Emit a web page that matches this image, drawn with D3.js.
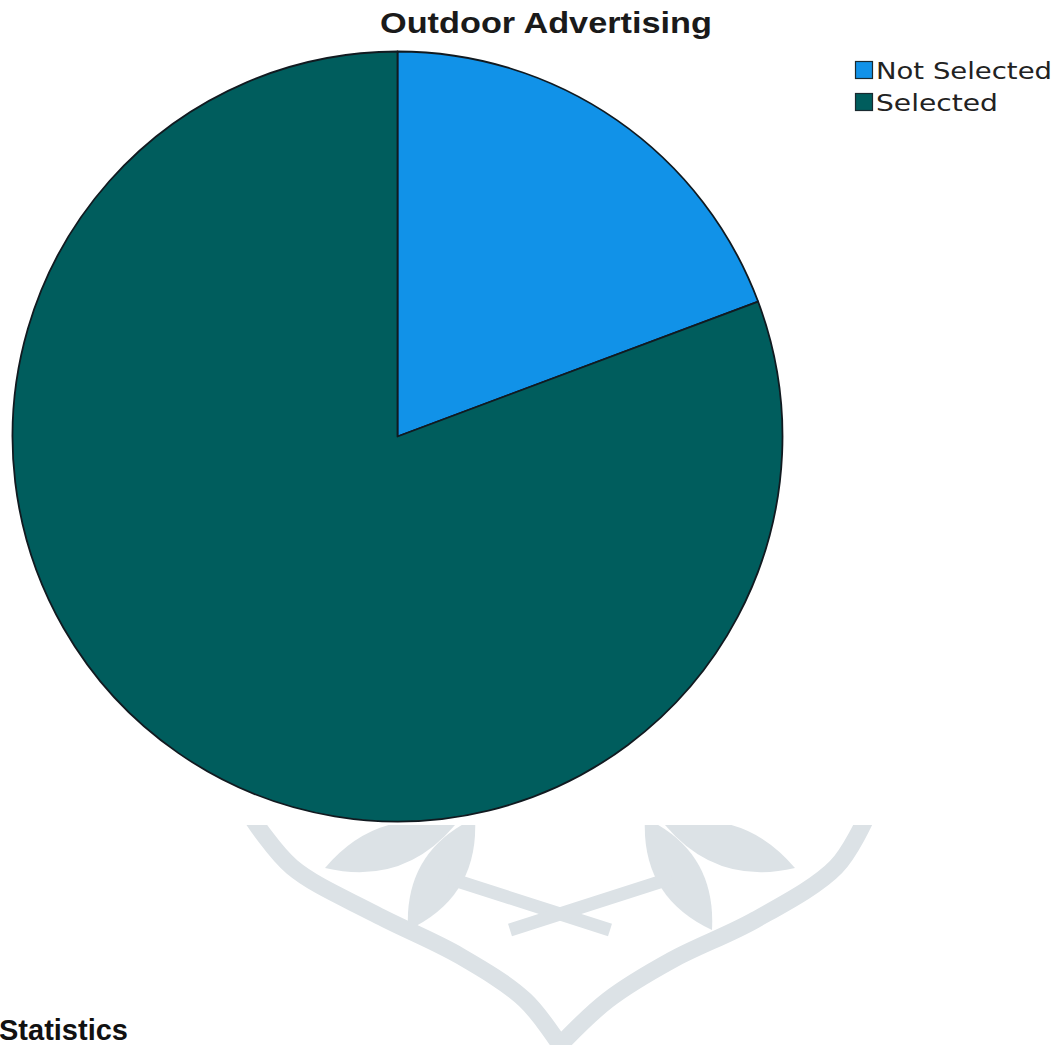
<!DOCTYPE html>
<html>
<head>
<meta charset="utf-8">
<script src="https://cdn.jsdelivr.net/npm/d3@7"></script>
<style>
  html, body { margin: 0; padding: 0; background: #fff; overflow: hidden; }
  svg { display: block; }
</style>
</head>
<body>
<script>
// Survey response: was outdoor advertising selected?
const categories = ["Not Selected", "Selected"];
const values = [19.3, 80.7];
const colors = ["#1192e8", "#005d5d"];
const chartTitle = "Outdoor Advertising";
const footerHeading = "Statistics";

const W = 1062, H = 1045;
const svg = d3.select("body").append("svg").attr("width", W).attr("height", H);

// Faint decorative emblem printed on the page behind the chart
const emblem = svg.append("g").attr("clip-path", "url(#emblemClip)");
svg.append("defs").append("clipPath").attr("id", "emblemClip")
  .append("rect").attr("x", 0).attr("y", 825).attr("width", W).attr("height", H - 825);
const inkColor = "#dce2e6";

function leaf(x1, y1, x2, y2, w) {
  const mx = (x1 + x2) / 2, my = (y1 + y2) / 2;
  const dx = x2 - x1, dy = y2 - y1, len = Math.hypot(dx, dy);
  const nx = -dy / len * w, ny = dx / len * w;
  const p = d3.path();
  p.moveTo(x1, y1);
  p.quadraticCurveTo(mx + nx, my + ny, x2, y2);
  p.quadraticCurveTo(mx - nx, my - ny, x1, y1);
  p.closePath();
  return p.toString();
}
const line = d3.line().curve(d3.curveCatmullRom.alpha(0.5));
emblem.append("path")
  .attr("d", line([[252, 818], [292, 867], [375, 914], [460, 956], [525, 1000], [560, 1045]]))
  .attr("fill", "none").attr("stroke", inkColor).attr("stroke-width", 17);
emblem.append("path")
  .attr("d", line([[866, 818], [836, 867], [755, 920], [672, 960], [608, 1000], [560, 1045]]))
  .attr("fill", "none").attr("stroke", inkColor).attr("stroke-width", 17);
[
  [455, 825, 325, 868, 42],
  [475, 818, 408, 930, 44],
  [645, 818, 712, 930, -44],
  [665, 825, 795, 868, -42]
].forEach(d => emblem.append("path").attr("d", leaf(...d)).attr("fill", inkColor));
emblem.append("path").attr("d", "M448,878 L610,930").attr("stroke", inkColor).attr("stroke-width", 13);
emblem.append("path").attr("d", "M672,878 L510,930").attr("stroke", inkColor).attr("stroke-width", 13);

// Pie
const cx = 397.5, cy = 436.5, R = 385;
const pie = d3.pie().sort(null).value(d => d.value);
const arc = d3.arc().innerRadius(0).outerRadius(R);
const data = categories.map((c, i) => ({ name: c, value: values[i], color: colors[i] }));

svg.append("g").attr("transform", `translate(${cx},${cy})`)
  .selectAll("path").data(pie(data)).join("path")
  .attr("d", arc)
  .attr("fill", d => d.data.color)
  .attr("stroke", "#111a20")
  .attr("stroke-width", 1.8)
  .attr("stroke-linejoin", "round");

// Title
svg.append("text")
  .attr("x", 380).attr("y", 33)
  .attr("font-family", "Liberation Sans, Arial, sans-serif")
  .attr("font-weight", "bold").attr("font-size", 29)
  .attr("textLength", 332).attr("lengthAdjust", "spacingAndGlyphs")
  .attr("fill", "#1a1a1a")
  .text(chartTitle);

// Legend
const legend = svg.append("g");
const rowY = [61, 93];
data.forEach((d, i) => {
  legend.append("rect")
    .attr("x", 855.5).attr("y", rowY[i] + 0.5).attr("width", 17).attr("height", 17)
    .attr("fill", d.color).attr("stroke", "#1a2a30").attr("stroke-width", 1.2);
  legend.append("text")
    .attr("x", 876).attr("y", rowY[i] + 18)
    .attr("font-family", "DejaVu Sans, sans-serif").attr("font-size", 23)
    .attr("fill", "#222")
    .attr("textLength", i === 0 ? 176 : 122).attr("lengthAdjust", "spacingAndGlyphs")
    .text(d.name);
});

// Heading below the chart
svg.append("text")
  .attr("x", -1).attr("y", 1040)
  .attr("font-family", "Liberation Sans, Arial, sans-serif")
  .attr("font-weight", "bold").attr("font-size", 29)
  .attr("fill", "#111")
  .text(footerHeading);
</script>
</body>
</html>
